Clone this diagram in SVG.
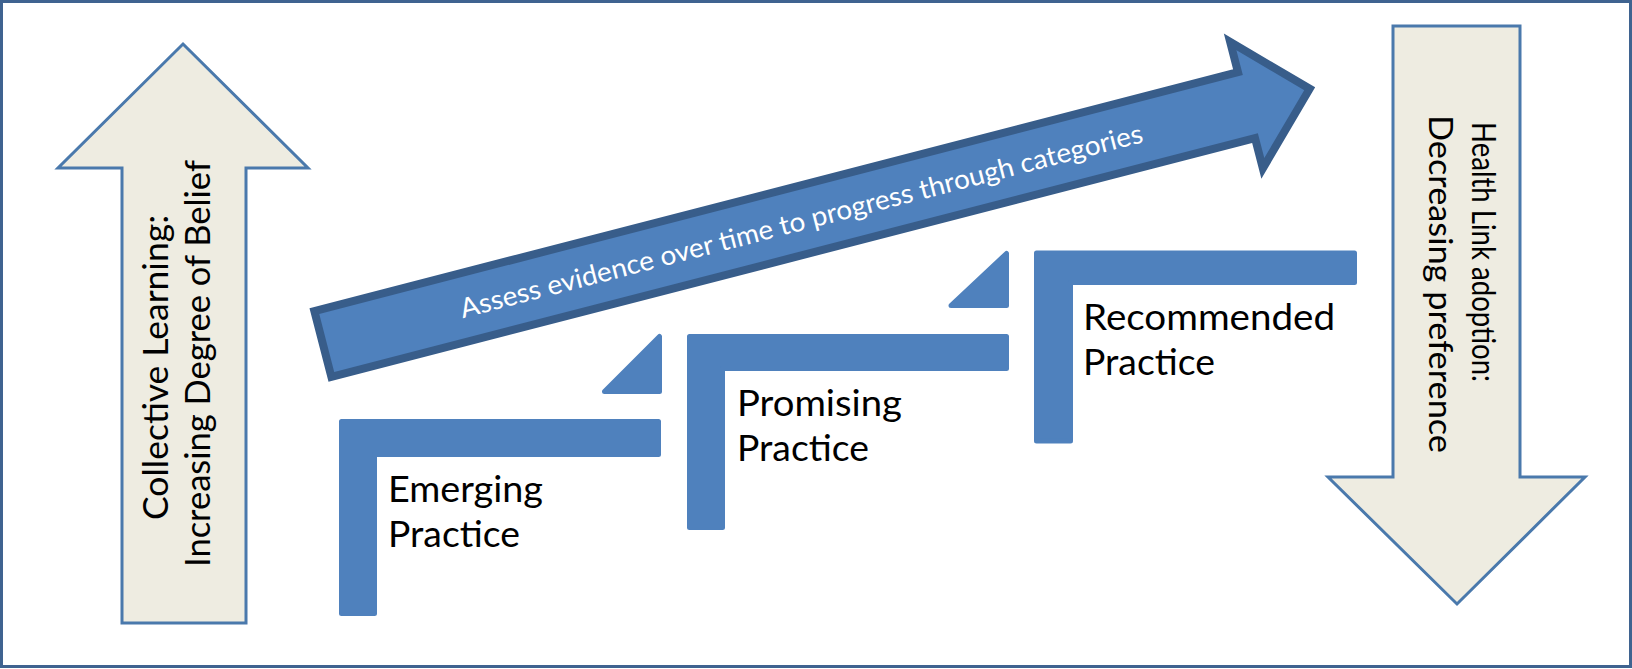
<svg xmlns="http://www.w3.org/2000/svg" width="1632" height="669" viewBox="0 0 1632 669">
  <style>
    .frame { fill: #ffffff; stroke: #3F6390; stroke-width: 3; }
    .beige { fill: #EEECE1; stroke: #4A79AC; stroke-width: 3; stroke-linejoin: miter; }
    .band { fill: #4F81BD; stroke: #385D8A; stroke-width: 8; stroke-linejoin: miter; }
    .step { fill: #4F81BD; stroke: #4F81BD; stroke-width: 5; stroke-linejoin: round; }
    .lbl { font-family: Lato, "Liberation Sans", sans-serif; fill: #000000; }
    .band-lbl { font-family: Lato, "Liberation Sans", sans-serif; fill: #ffffff; }
  </style>

  <!-- outer frame -->
  <g id="frame">
    <rect class="frame" x="1.5" y="1.5" width="1629" height="665"/>
  </g>

  <!-- left block arrow pointing up -->
  <g id="belief-arrow">
    <polygon class="beige" points="183,44 308,168 246,168 246,623 122,623 122,168 58,168"/>
    <text class="lbl" font-size="34" text-anchor="middle" transform="translate(168,367.5) rotate(-90)" textLength="305" lengthAdjust="spacingAndGlyphs">Collective Learning:</text>
    <text class="lbl" font-size="34" text-anchor="middle" transform="translate(210,363.5) rotate(-90)" textLength="407" lengthAdjust="spacingAndGlyphs">Increasing Degree of Belief</text>
  </g>

  <!-- right block arrow pointing down -->
  <g id="preference-arrow">
    <polygon class="beige" points="1393,26 1520,26 1520,477 1585,477 1457,604 1328,477 1393,477"/>
    <text class="lbl" font-size="33" text-anchor="middle" transform="translate(1472,252) rotate(90)" textLength="260" lengthAdjust="spacingAndGlyphs">Health Link adoption:</text>
    <text class="lbl" font-size="33" text-anchor="middle" transform="translate(1429,284) rotate(90)" textLength="338" lengthAdjust="spacingAndGlyphs">Decreasing preference</text>
  </g>

  <!-- rising arrow across the top -->
  <g id="progress-arrow" transform="translate(319,345) rotate(-14.5)">
    <path class="band" d="M4,-34 L958,-34 L958,-65.3 L1023.3,0 L958,65.3 L958,34 L4,34 Z"/>
    <text class="band-lbl" font-size="27" text-anchor="middle" x="498" y="10" textLength="704" lengthAdjust="spacingAndGlyphs">Assess evidence over time to progress through categories</text>
  </g>

  <!-- stair steps -->
  <g id="step-emerging">
    <path class="step" d="M341.5,421.5 H658.5 V454.5 H374.5 V613.5 H341.5 Z"/>
    <text class="lbl" font-size="36" x="388" y="502" textLength="155" lengthAdjust="spacingAndGlyphs">Emerging</text>
    <text class="lbl" font-size="36" x="388" y="547" textLength="132" lengthAdjust="spacingAndGlyphs">Practice</text>
  </g>

  <g id="step-promising">
    <path class="step" d="M689.5,336.5 H1006.5 V368.5 H722.5 V527.5 H689.5 Z"/>
    <text class="lbl" font-size="36" x="737" y="416" textLength="165" lengthAdjust="spacingAndGlyphs">Promising</text>
    <text class="lbl" font-size="36" x="737" y="461" textLength="132" lengthAdjust="spacingAndGlyphs">Practice</text>
  </g>

  <g id="step-recommended">
    <path class="step" d="M1036.5,253 H1354.5 V282.5 H1070.5 V441 H1036.5 Z"/>
    <text class="lbl" font-size="36" x="1083" y="329.5" textLength="252" lengthAdjust="spacingAndGlyphs">Recommended</text>
    <text class="lbl" font-size="36" x="1083" y="375" textLength="132" lengthAdjust="spacingAndGlyphs">Practice</text>
  </g>

  <!-- risers linking each step to the next -->
  <g id="connectors">
    <polygon class="step" points="659.5,336.5 659.5,391.5 604.5,391.5"/>
    <polygon class="step" points="1006.5,253.5 1006.5,305.5 951,305.5"/>
  </g>
</svg>
